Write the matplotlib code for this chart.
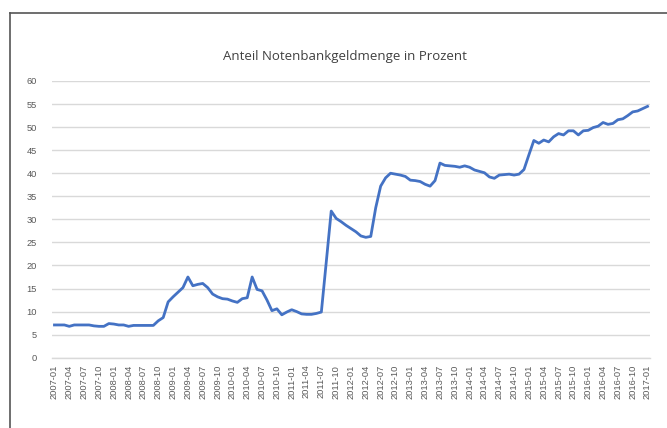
import pandas as pd
import matplotlib
matplotlib.use("Agg")
import matplotlib.pyplot as plt
from matplotlib.lines import Line2D

# monthly categories 2007-01 .. 2017-01
months = [p.strftime("%Y-%m") for p in pd.period_range("2007-01", "2017-01", freq="M")]

anteil = [
    7.1, 7.1, 7.1, 6.8, 7.1, 7.1, 7.1, 7.1, 6.9, 6.8, 6.8, 7.4, 7.3, 7.1, 7.1, 6.8, 7.0, 7.0, 7.0, 7.0, 7.0,
    8.0, 8.7, 12.1, 13.2, 14.2, 15.2, 17.5, 15.6, 15.9, 16.1, 15.2, 13.8, 13.2, 12.8, 12.7, 12.3, 12.0, 12.8, 13.0, 17.5,
    14.8, 14.5, 12.5, 10.2, 10.6, 9.3, 9.9, 10.4, 10.0, 9.5, 9.4, 9.4, 9.6, 9.9, 20.8, 31.8, 30.2, 29.5, 28.7, 28.0,
    27.3, 26.4, 26.1, 26.3, 32.5, 37.2, 39.0, 40.0, 39.8, 39.6, 39.3, 38.5, 38.4, 38.2, 37.6, 37.2, 38.4, 42.2, 41.7, 41.6,
    41.5, 41.3, 41.6, 41.3, 40.7, 40.4, 40.1, 39.2, 38.9, 39.6, 39.7, 39.8, 39.6, 39.8, 40.8, 44.0, 47.1, 46.5, 47.2, 46.8,
    47.9, 48.6, 48.3, 49.2, 49.2, 48.3, 49.2, 49.3, 49.9, 50.2, 51.0, 50.6, 50.8, 51.6, 51.8, 52.5, 53.3, 53.5, 54.0, 54.5,
]

yticks = list(range(0, 61, 5))
title = "Anteil Notenbankgeldmenge in Prozent"

plt.rcParams["font.family"] = ["Liberation Sans", "DejaVu Sans"]

fig = plt.figure(figsize=(6.67, 4.28), dpi=100)
ax = fig.add_axes([52 / 667, 1 - 357.7 / 428, 598 / 667, (357.7 - 81) / 428])

x = list(range(len(months)))
ax.plot(x, anteil, color="#4472C4", linewidth=2.0, solid_joinstyle="round")

ax.set_ylim(0, 60)
ax.set_xlim(-0.5, len(months) - 0.5)
ax.set_yticks(yticks)
ax.set_xticks(x[::3])
ax.set_xticklabels(months[::3], rotation=90)
ax.tick_params(axis="both", length=0, labelsize=6.7, labelcolor="#595959")
ax.tick_params(axis="y", pad=11)
ax.tick_params(axis="x", pad=5)

ax.grid(axis="y", color="#d9d9d9", linewidth=1)
ax.set_axisbelow(True)
for s in ["top", "right", "left"]:
    ax.spines[s].set_visible(False)
ax.spines["bottom"].set_color("#d9d9d9")
ax.spines["bottom"].set_linewidth(1)

fig.text(345 / 667, 1 - 57 / 428, title, ha="center", va="center",
         fontsize=9.5, color="#404040", family=["Open Sans", "DejaVu Sans"])

# frame of the screenshot (top and left edge only)
fx, fy = 9.5 / 667, 1 - 13 / 428
fig.add_artist(Line2D([fx, fx], [0, fy], color="#555555", linewidth=1.2))
fig.add_artist(Line2D([fx, 1], [fy, fy], color="#555555", linewidth=1.2))

plt.savefig("out.png", dpi=100)
plt.close()
